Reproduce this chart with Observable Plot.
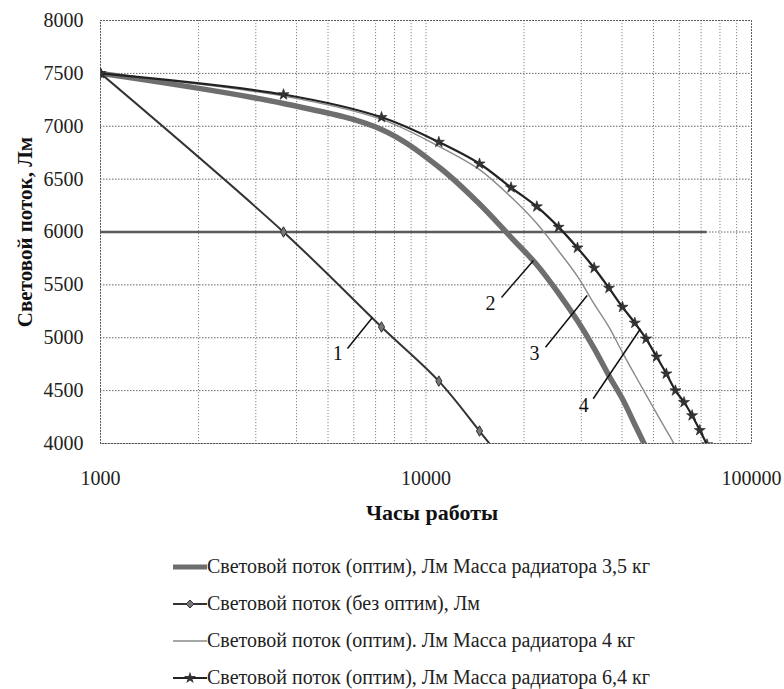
<!DOCTYPE html>
<html><head><meta charset="utf-8">
<script src="https://cdn.jsdelivr.net/npm/d3@7"></script>
<script src="https://cdn.jsdelivr.net/npm/@observablehq/plot@0.6"></script>
<style>
body{margin:0;background:#fff;font-family:"Liberation Serif","Times New Roman","DejaVu Serif",serif;}
#legend{position:relative;width:784px;height:149px;}
.row{position:absolute;left:173px;height:37px;display:flex;align-items:center;font-size:20px;color:#222;white-space:nowrap;}
svg text{font-family:"Liberation Serif","Times New Roman","DejaVu Serif",serif;}
</style></head><body>
<div id="chart"></div>
<div id="legend"></div>
<script>
// Hours of operation (data points)
const hours = [1000,3650,7300,10950,14600,18250,21900,25550,29200,32850,36500,40150,43800,47450,51100,54750,58400,62050,65700,69350,73000];
// Series values (lm)
const flowNoOpt = [7500,6000,5102,4590,4118,3740];                                   // 1 без оптим
const flow35 = [7500,7215,6970,6615,6265,5950,5690,5420,5160,4900,4640,4420,4180,3960]; // 2 — 3,5 кг
const flow4  = [7500,7285,7065,6810,6590,6330,6080,5820,5580,5320,5100,4860,4650,4460,4285,4125,3975]; // 3 — 4 кг
const flow64 = [7500,7300,7085,6850,6645,6420,6240,6046,5850,5660,5470,5290,5140,4990,4820,4660,4500,4390,4265,4125,3990]; // 4 — 6,4 кг
const thresholdLevel = 6000;
// Axis ticks
const xTickLabels = [1000,10000,100000];
const xGrid = [1000,2000,3000,4000,5000,6000,7000,8000,9000,10000,20000,30000,40000,50000,60000,70000,80000,90000,100000];
const yTicks = [4000,4500,5000,5500,6000,6500,7000,7500,8000];
// Curve labels and leaders (data coordinates)
const curveLabels = [
  {t:"1", h:5360, v:4848, h1:5738, v1:4898, h2:6847, v2:5192},
  {t:"2", h:15780, v:5321, h1:17060, v1:5381, h2:21390, v2:5731},
  {t:"3", h:21540, v:4848, h1:23290, v1:4911, h2:31270, v2:5400},
  {t:"4", h:30530, v:4360, h1:32640, v1:4423, h2:45600, v2:5085}
];
const legendNames = [
  "Световой поток (оптим), Лм Масса радиатора 3,5 кг",
  "Световой поток (без оптим), Лм",
  "Световой поток (оптим). Лм Масса радиатора 4 кг",
  "Световой поток (оптим), Лм Масса радиатора 6,4 кг"
];
const xTitle = "Часы работы";
const yTitle = "Световой поток, Лм";

const toRows = arr => arr.map((v,i)=>({h:hours[i], v}));
const s1 = toRows(flowNoOpt), s2 = toRows(flow35), s3 = toRows(flow4), s4 = toRows(flow64);
const FONT = '"Liberation Serif","Times New Roman","DejaVu Serif",serif';

const chart = Plot.plot({
  width:784, height:540,
  marginTop:20, marginLeft:100, marginRight:33, marginBottom:97,
  style:{fontFamily:FONT, fontSize:"20px", color:"#222", background:"#fff"},
  x:{type:"log", domain:[1000,100000], ticks:xTickLabels, tickFormat:d=>String(d), tickSize:0, tickPadding:27, label:null},
  y:{domain:[4000,8000], ticks:yTicks, tickFormat:d=>String(d), tickSize:0, tickPadding:17, label:null},
  marks:[
    Plot.ruleX(xGrid, {stroke:"#888", strokeWidth:1, strokeDasharray:"1.2,1.8"}),
    Plot.ruleY(yTicks, {stroke:"#666", strokeWidth:1, strokeDasharray:"1.5,1.5"}),
    Plot.ruleY([thresholdLevel], {x1:hours[0], x2:hours[hours.length-1], stroke:"#5a5a5a", strokeWidth:2.5}),
    Plot.line(s3, {x:"h", y:"v", stroke:"#8a8a8a", strokeWidth:1.4, curve:"catmull-rom", clip:true}),
    Plot.line(s2, {x:"h", y:"v", stroke:"#6e6e6e", strokeWidth:5.5, curve:"catmull-rom", clip:true}),
    Plot.line(s1, {x:"h", y:"v", stroke:"#333", strokeWidth:2, curve:"catmull-rom", clip:true}),
    Plot.line(s4, {x:"h", y:"v", stroke:"#222", strokeWidth:2.2, curve:"catmull-rom", clip:true}),
    Plot.dot(s1, {x:"h", y:"v", symbol:"diamond", r:3.2, fill:"#777", stroke:"#333", strokeWidth:1, clip:true}),
    Plot.dot(s4, {x:"h", y:"v", symbol:"star", r:3.5, fill:"#333", stroke:"#222", strokeWidth:0.6, clip:true}),
    Plot.link(curveLabels, {x1:"h1", y1:"v1", x2:"h2", y2:"v2", stroke:"#111", strokeWidth:1.5}),
    Plot.text(curveLabels, {x:"h", y:"v", text:"t", fontSize:20, fill:"#111"}),
    Plot.text([yTitle], {frameAnchor:"left", textAnchor:"middle", lineAnchor:"middle", dx:-75, rotate:-90, fontSize:21, fontWeight:"bold", fill:"#111"}),
    Plot.text([xTitle], {frameAnchor:"bottom", textAnchor:"middle", lineAnchor:"middle", dx:6, dy:69, fontSize:22, fontWeight:"bold", fill:"#111"}),
    Plot.frame({stroke:"#555", strokeWidth:1, strokeDasharray:"1.5,1.5"})
  ]
});
document.getElementById("chart").appendChild(chart);

// Legend
const swatches = [
  `<svg width="34" height="12"><line x1="0" y1="6" x2="34" y2="6" stroke="#6e6e6e" stroke-width="5"/></svg>`,
  `<svg width="34" height="12"><line x1="0" y1="6" x2="34" y2="6" stroke="#333" stroke-width="2"/><path d="M17 2 L21 6 L17 10 L13 6Z" fill="#777" stroke="#333"/></svg>`,
  `<svg width="34" height="12"><line x1="0" y1="6" x2="34" y2="6" stroke="#8a8a8a" stroke-width="1.4"/></svg>`,
  `<svg width="34" height="12"><line x1="0" y1="6" x2="34" y2="6" stroke="#222" stroke-width="2"/><path d="${d3.symbol(d3.symbolStar, 45)()}" transform="translate(17,6)" fill="#333"/></svg>`
];
const leg = document.getElementById("legend");
legendNames.forEach((name,i)=>{
  const r = document.createElement("div");
  r.className = "row";
  r.style.top = (8 + 37*i) + "px";
  r.innerHTML = swatches[i] + `<span>${name}</span>`;
  leg.appendChild(r);
});
</script>
</body></html>
